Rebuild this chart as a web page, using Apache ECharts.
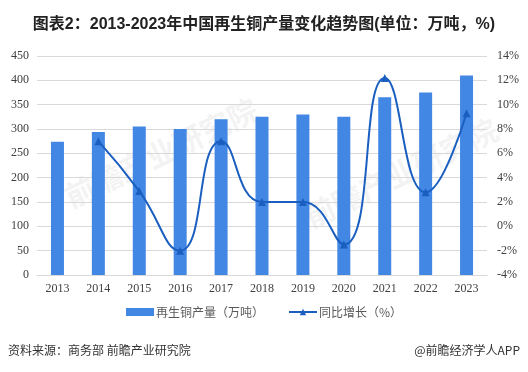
<!DOCTYPE html>
<html><head><meta charset="utf-8">
<script src="https://cdn.jsdelivr.net/npm/echarts@6/dist/echarts.min.js"></script>
<style>html,body{margin:0;padding:0;background:#fff}#c{width:528px;height:372px}</style>
</head><body><div id="c"></div>
<script>
const years = ['2013','2014','2015','2016','2017','2018','2019','2020','2021','2022','2023'];
const output = [274, 294, 305, 300, 320, 325, 330, 325, 365, 375, 410];
const growth = [null, 7.0, 2.9, -2.0, 7.0, 2.0, 2.0, -1.5, 12.2, 2.8, 9.3];
const leftTicks = [0, 450, 50];
const rightTicks = [-4, 14, 2];

const chart = echarts.init(document.getElementById('c'), null, {renderer:'canvas'});
const serif = '"Liberation Serif","Times New Roman",serif';
const sans = '"Noto Sans CJK SC","Microsoft YaHei",sans-serif';
chart.setOption({
  animation:false,
  title:{text:'图表2：2013-2023年中国再生铜产量变化趋势图(单位：万吨，%)',left:'center',top:12,
    textStyle:{fontSize:16,fontWeight:'bold',color:'#222',fontFamily:'"Liberation Sans",'+sans}},
  graphic:[
    {type:'text',left:8,top:344,style:{text:'资料来源：商务部 前瞻产业研究院',fontSize:12,fill:'#333',fontFamily:sans}},
    {type:'text',right:8,top:344,style:{text:'@前瞻经济学人APP',fontSize:12,fill:'#333',fontFamily:sans}},
    {type:'text',x:60,y:185,rotation:Math.PI/7,style:{text:'前瞻产业研究院',fontSize:30,fontWeight:'bold',fill:'rgba(200,200,200,0.22)',fontFamily:sans}},
    {type:'text',x:300,y:205,rotation:Math.PI/7,style:{text:'前瞻产业研究院',fontSize:30,fontWeight:'bold',fill:'rgba(200,200,200,0.22)',fontFamily:sans}}
  ],
  legend:{top:301,left:'center',itemGap:24,itemWidth:28,itemHeight:8,
    textStyle:{fontSize:12,color:'#595959',fontFamily:sans,padding:[0,0,0,-3]},
    data:[{name:'再生铜产量（万吨）',icon:'rect'},{name:'同比增长（%）'}]},
  grid:{left:37,right:41,top:56,bottom:97},
  xAxis:{type:'category',data:years,
    axisLine:{show:true,lineStyle:{color:'#d9d9d9'}},axisTick:{show:false},
    axisLabel:{fontSize:12,color:'#404040',fontFamily:serif,margin:8}},
  yAxis:[
    {type:'value',min:leftTicks[0],max:leftTicks[1],interval:leftTicks[2],
      axisLine:{show:false},axisTick:{show:false},
      splitLine:{lineStyle:{color:'#d9d9d9'}},
      axisLabel:{fontSize:12,color:'#404040',fontFamily:serif,margin:8}},
    {type:'value',min:rightTicks[0],max:rightTicks[1],interval:rightTicks[2],
      axisLine:{show:false},axisTick:{show:false},splitLine:{show:false},
      axisLabel:{fontSize:12,color:'#404040',fontFamily:serif,margin:10,formatter:'{value}%'}}
  ],
  series:[
    {name:'再生铜产量（万吨）',type:'bar',data:output,barWidth:13,itemStyle:{color:'#4287e4'}},
    {name:'同比增长（%）',type:'line',yAxisIndex:1,data:growth,smooth:0.5,
      symbol:'triangle',symbolSize:8,connectNulls:false,
      lineStyle:{color:'#1a5fc0',width:2},itemStyle:{color:'#1a5fc0'}}
  ]
});
</script></body></html>
